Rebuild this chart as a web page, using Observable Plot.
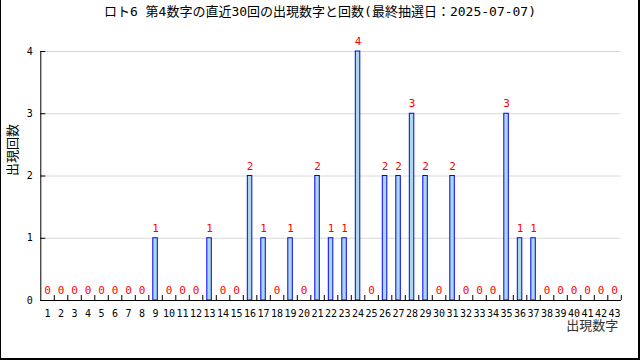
<!DOCTYPE html>
<html>
<head>
<meta charset="utf-8">
<script src="https://cdn.jsdelivr.net/npm/d3@7"></script>
<script src="https://cdn.jsdelivr.net/npm/@observablehq/plot@0.6"></script>
<style>
  html, body { margin: 0; padding: 0; background: white; }
  #wrap { position: relative; width: 640px; height: 360px; overflow: hidden; background: white;
          font-family: "DejaVu Sans Mono", "Noto Sans CJK JP", monospace; }
  #title { height: 24px; line-height: 24px; text-align: center; font-size: 13px; color: #000; }
  #frame { position: absolute; left: 0; top: 0; width: 640px; height: 360px; box-sizing: border-box;
           border-left: 1px solid #000; border-right: 2px solid #000; border-bottom: 2px solid #000; pointer-events: none; }
  svg { display: block; }
</style>
</head>
<body>
<div id="wrap">
  <div id="title">ロト6 第4数字の直近30回の出現数字と回数(最終抽選日：2025-07-07)</div>
  <div id="chart"></div>
  <div id="frame"></div>
</div>
<script>
const numbers = d3.range(1, 44);
const counts = [0,0,0,0,0,0,0,0,1,0, 0,0,1,0,0,2,1,0,1,0, 2,1,1,4,0,2,2,3,2,0, 2,0,0,0,3,1,1,0,0,0, 0,0,0];
const yTicks = [0, 1, 2, 3, 4];
const xLabel = "出現数字";
const yLabel = "出現回数";

const data = numbers.map((n, i) => ({n, count: counts[i]}));
const boundaries = numbers.map(n => n + 0.5);

const chart = Plot.plot({
  width: 640,
  height: 336,
  marginTop: 27,
  marginBottom: 60,
  marginLeft: 40.3,
  marginRight: 19.2,
  x: {domain: [0.5, 43.5], axis: null},
  y: {domain: [0, 4], axis: null},
  style: {fontFamily: '"DejaVu Sans Mono", "Noto Sans CJK JP", monospace', background: "white", overflow: "visible"},
  marks: [
    Plot.ruleY(yTicks.filter(d => d > 0), {stroke: "#d8d8d8", strokeOpacity: 1}),
    Plot.rectY(data.filter(d => d.count > 0), {
      x1: d => d.n - 0.5, x2: d => d.n + 0.5, y: "count",
      insetLeft: 4.5, insetRight: 4.5,
      fill: "#add8e6", stroke: "blue", strokeWidth: 1
    }),
    Plot.ruleY([0], {stroke: "black"}),
    Plot.ruleX([0.5], {y1: 0, y2: 4, stroke: "black"}),
    Plot.axisX(boundaries, {tickSize: 5, dy: -5, fill: "none", stroke: "black"}),
    Plot.axisY(yTicks, {tickSize: 5, dx: 5, fill: "none", stroke: "black"}),
    Plot.text(numbers, {x: d => d, y: 0, dy: 13, text: d => String(d), fontSize: 10, fill: "black"}),
    Plot.text(yTicks, {x: 0.5, y: d => d, dx: -11, text: d => String(d), fontSize: 10, fill: "black"}),
    Plot.text(data, {x: "n", y: "count", dy: -10, text: d => String(d.count), fontSize: 11, fill: "red"}),
    Plot.text([xLabel], {frameAnchor: "bottom-right", dx: -3, dy: 25, textAnchor: "end", lineAnchor: "middle", fontSize: 13, fill: "#333", text: d => d}),
    Plot.text([yLabel], {frameAnchor: "left", dx: -28, rotate: -90, fontSize: 13, fill: "#000", text: d => d})
  ]
});
document.getElementById("chart").appendChild(chart);
</script>
</body>
</html>
